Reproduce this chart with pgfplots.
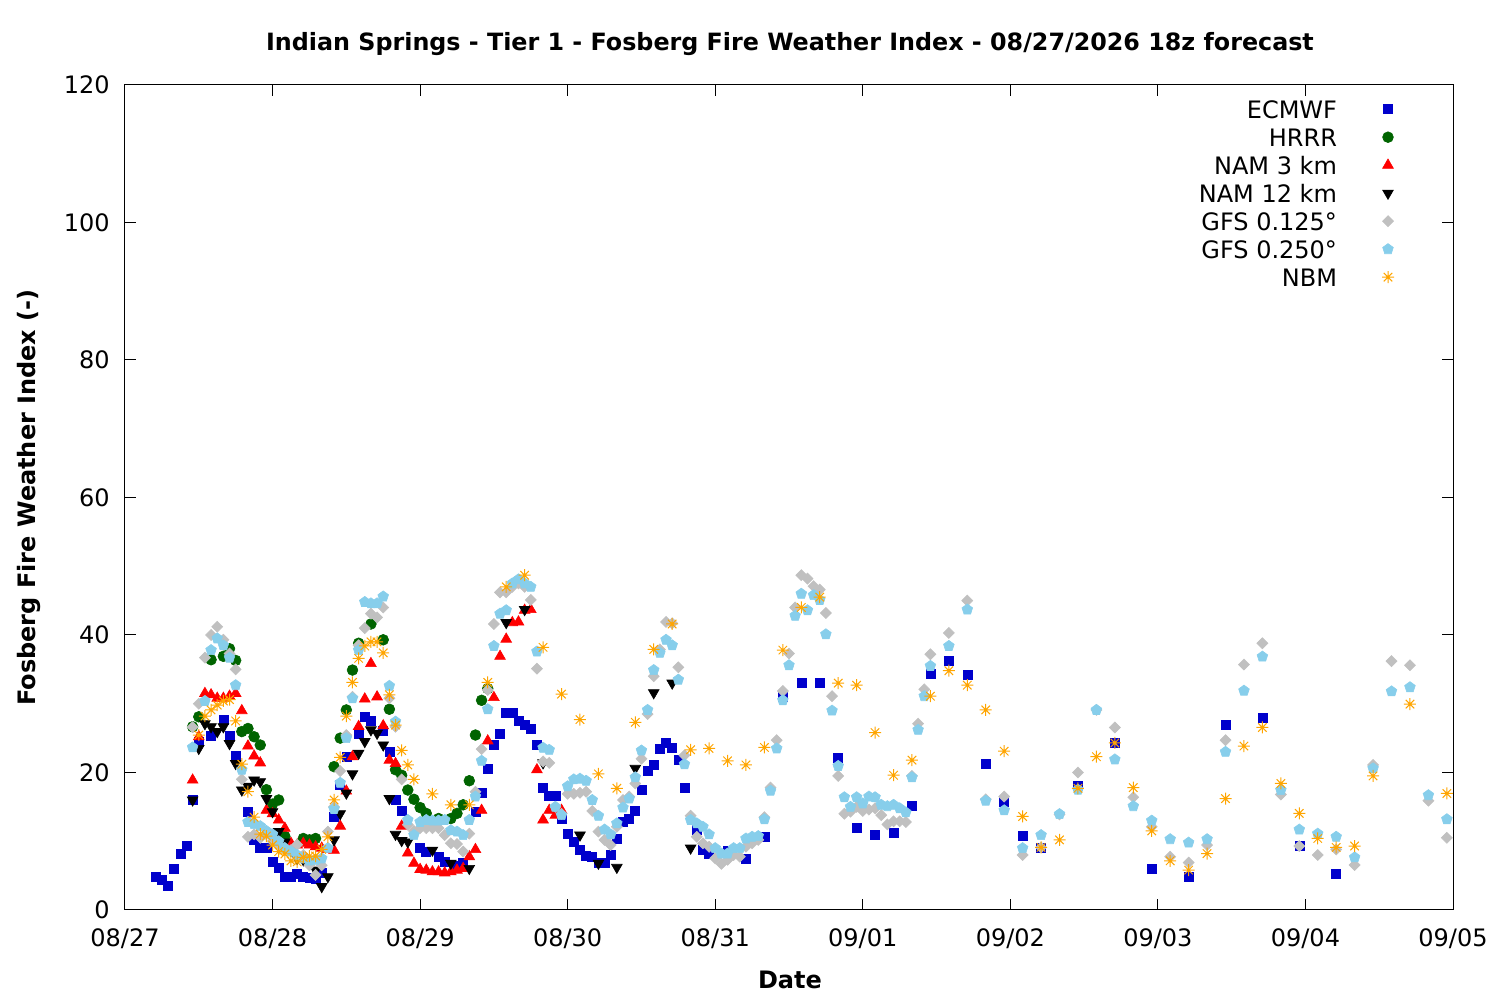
\documentclass[border=0pt]{standalone}
\usepackage{pgfplots}
\pgfplotsset{compat=1.18}
\usepackage{fontspec}
\setmainfont{DejaVu Sans}
\definecolor{ecblue}{RGB}{0,0,204}
\definecolor{hrgreen}{RGB}{0,100,0}
\definecolor{gfsgray}{RGB}{192,192,192}
\definecolor{gfsblue}{RGB}{135,206,235}
\definecolor{nbmorange}{RGB}{255,165,0}
\pgfdeclareplotmark{gpstar}{%
  \pgfpathmoveto{\pgfqpoint{-\pgfplotmarksize}{0pt}}%
  \pgfpathlineto{\pgfqpoint{\pgfplotmarksize}{0pt}}%
  \pgfpathmoveto{\pgfqpoint{0pt}{-\pgfplotmarksize}}%
  \pgfpathlineto{\pgfqpoint{0pt}{\pgfplotmarksize}}%
  \pgfpathmoveto{\pgfqpoint{-.7071\pgfplotmarksize}{-.7071\pgfplotmarksize}}%
  \pgfpathlineto{\pgfqpoint{.7071\pgfplotmarksize}{.7071\pgfplotmarksize}}%
  \pgfpathmoveto{\pgfqpoint{-.7071\pgfplotmarksize}{.7071\pgfplotmarksize}}%
  \pgfpathlineto{\pgfqpoint{.7071\pgfplotmarksize}{-.7071\pgfplotmarksize}}%
  \pgfusepathqstroke}
\begin{document}
\begin{tikzpicture}
\path[use as bounding box] (-62.5pt,-45pt) rectangle (687.5pt,455pt);
\begin{axis}[
  at={(0,0)}, anchor=south west,
  scale only axis, width=664pt, height=412.5pt,
  xmin=0, xmax=216, ymin=0, ymax=120,
  xtick={0,24,...,216},
  xticklabels={08/27,08/28,08/29,08/30,08/31,09/01,09/02,09/03,09/04,09/05},
  ytick={0,20,...,120},
  /pgf/number format/assume math mode=true,
  tick align=inside, major tick length=5.5pt,
  tick style={black, line width=0.5pt},
  axis line style={line width=0.5pt},
  font=\fontsize{12}{14}\selectfont,
  xticklabel style={anchor=base, yshift=-18.4pt, inner sep=0pt},
  yticklabel style={anchor=east, xshift=-7.5pt, inner sep=0pt},
  legend plot pos=right,
  legend image post style={yshift=1.8pt},
  legend style={at={(axis description cs:1,1)}, anchor=north east, xshift=-29.5pt, yshift=-7.9pt,
    draw=none, fill=none, inner sep=0pt, outer sep=0pt, row sep=2pt, column sep=22.5pt,
    nodes={text height=9pt, text depth=3pt, inner sep=0pt},
    cells={anchor=east}, font=\fontsize{12}{14}\selectfont},
  every axis plot/.append style={line width=0.3pt},
]
\addplot[only marks, color=ecblue, mark=square*, mark size=2.25pt] coordinates {
(5,4.85)(6,4.4)(7,3.5)(8,6.05)(9,8.2)(10,9.4)(11,16)(12,24.5)(14,25.3)(16,27.6)(17,25.4)(18,22.5)(20,14.3)(21,10.2)(22,9.0)(23,9.0)(24,7.0)(25,6.2)(26,4.9)(27,4.9)(28,5.3)(29,4.9)(30,4.7)(31,4.6)(32,5.4)(34,13.6)(35,18.2)(36,22.3)(38,25.7)(39,28.1)(40,27.5)(42,26)(43,23)(44,16.1)(45,14.5)(48,9.0)(49,8.5)(51,7.7)(52,7.0)(54,6.5)(55,6.8)(57,14.3)(58,17.1)(59,20.6)(60,24)(61,25.7)(62,28.7)(63,28.7)(64,27.5)(65,27)(66,26.3)(67,24.1)(68,17.8)(69,16.6)(70,16.6)(71,13.3)(72,11.1)(73,9.9)(74,8.8)(75,7.85)(76,7.75)(77,6.8)(78,6.8)(79,8.0)(80,10.4)(81,12.8)(82,13.3)(83,14.4)(84,17.45)(85,20.2)(86,21.1)(87,23.4)(88,24.3)(89,23.6)(90,21.8)(91,17.8)(93,11.7)(94,8.7)(95,8.2)(98,8.6)(101,7.4)(104,10.7)(107,31.0)(110,33.0)(113,33.1)(116,22.2)(119,12.0)(122,10.9)(125,11.3)(128,15.1)(131,34.4)(134,36.2)(137,34.2)(140,21.2)(143,15.75)(146,10.8)(149,9.1)(155,18.0)(161,24.3)(167,6.05)(173,4.85)(179,26.9)(185,27.9)(191,9.3)(197,5.2)
};
\addlegendentry{ECMWF}
\addplot[only marks, color=hrgreen, mark=*, mark size=2.7pt] coordinates {
(11,26.65)(12,28.1)(14,36.4)(16,36.9)(17,38.0)(18,36.3)(19,25.95)(20,26.4)(21,25.2)(22,24.0)(23,17.5)(24,15.4)(25,16)(26,10.7)(29,10.4)(30,10.2)(31,10.4)(34,20.85)(35,25)(36,29.1)(37,34.9)(38,38.8)(40,41.6)(42,39.3)(43,29.2)(44,20.4)(45,19.6)(46,17.45)(47,16.1)(48,14.9)(49,14.05)(51,13.3)(53,13.3)(54,14.05)(55,15.3)(56,18.8)(57,25.45)(58,30.5)(59,32.2)
};
\addlegendentry{HRRR}
\addplot[only marks, color=red, mark=triangle*, mark size=3.1pt] coordinates {
(11,18.9)(12,25.2)(13,31.5)(14,31.3)(15,30.8)(16,30.8)(17,31.1)(18,31.5)(19,29)(20,23.85)(21,22.4)(22,21.4)(23,14.5)(24,14)(25,13.1)(26,11.9)(27,9.7)(28,9.45)(29,9.7)(30,9.45)(31,9.2)(32,9.0)(33,8.8)(34,8.7)(35,12.2)(36,17.3)(37,22.3)(38,26.7)(39,30.7)(40,35.85)(41,31)(42,26.8)(43,21.8)(44,21.3)(45,12.2)(46,8.3)(47,6.8)(48,5.9)(49,5.8)(50,5.55)(51,5.55)(52,5.4)(53,5.55)(54,5.8)(55,6.05)(56,7.75)(57,8.8)(58,14.5)(59,24.6)(60,30.9)(61,36.9)(62,39.4)(63,41.8)(64,41.9)(65,43.6)(66,43.7)(67,20.4)(68,13.1)(69,14.5)(70,13.8)(71,14.5)
};
\addlegendentry{NAM 3 km}
\addplot[only marks, color=black, mark=triangle*, mark size=3.1pt, mark options={rotate=180}] coordinates {
(11,16)(12,23.5)(13,27.1)(14,26.65)(15,25.95)(16,26.65)(17,24.2)(18,21.3)(19,17.45)(20,18)(21,18.9)(22,18.65)(23,16.2)(24,14.3)(25,11.4)(26,9.9)(27,8.7)(28,7.5)(29,7.3)(30,6.8)(31,5.8)(32,3.4)(33,4.85)(34,10.2)(35,14)(36,17)(37,19.8)(38,22.8)(39,24.5)(40,26.2)(41,25.7)(42,24)(43,16.2)(44,11)(45,10.1)(46,9.9)(50,8.7)(53,6.8)(56,6.05)(62,41.8)(65,43.7)(68,21.4)(74,10.9)(77,6.8)(80,6.2)(83,20.6)(86,31.6)(89,33.0)(92,9.0)
};
\addlegendentry{NAM 12 km}
\addplot[only marks, color=gfsgray, mark=square*, mark size=1.95pt, mark options={rotate=45}] coordinates {
(11,26.6)(12,30)(13,36.7)(14,40)(15,41.2)(16,39.3)(17,37.3)(18,35)(19,19)(20,10.65)(21,11)(22,10.5)(23,11)(24,10)(25,9.5)(26,9)(27,8.7)(28,9.5)(29,8)(30,6.5)(31,5.1)(32,6.5)(33,11.4)(34,15)(35,20.2)(36,25.45)(37,31)(38,38.5)(39,41)(40,43.1)(41,42.55)(42,44)(43,30.8)(44,26.65)(45,19)(46,12.4)(47,11.5)(48,11.9)(49,11.9)(50,11.9)(51,11.9)(52,10.9)(53,9.7)(54,9.6)(55,8.5)(56,11.1)(57,17.2)(58,23.4)(59,32)(60,41.6)(61,46.2)(62,46.2)(63,47)(64,47.5)(65,47)(66,45.1)(67,35.1)(68,21.6)(69,21.4)(70,15)(71,14)(72,16.9)(73,16.9)(74,17.05)(75,17.2)(76,14.4)(77,11.4)(78,10.2)(79,9.45)(80,12.1)(81,16)(82,16.5)(83,18.4)(84,22)(85,28.5)(86,34)(87,37.9)(88,41.9)(89,41.7)(90,35.3)(91,22.5)(92,13.7)(93,10.65)(94,9.7)(95,9.2)(96,7.5)(97,6.7)(98,7.3)(99,8)(100,7.75)(101,9.2)(102,9.7)(103,10.2)(104,13.5)(105,17.8)(106,24.7)(107,31.85)(108,37.3)(109,44)(110,48.7)(111,48.2)(112,47.1)(113,46.6)(114,43.2)(115,31.1)(116,19.5)(117,14)(118,14.3)(119,15)(120,14.4)(121,14.6)(122,14.8)(123,13.8)(124,12.45)(125,12.9)(126,12.9)(127,12.8)(128,19.5)(129,27.1)(130,32.1)(131,37.2)(134,40.3)(137,45)(140,16.1)(143,16.5)(146,8.0)(149,9.1)(152,13.9)(155,20)(158,29.1)(161,26.55)(164,16.4)(167,12.1)(170,7.75)(173,6.9)(176,9.45)(179,24.7)(182,35.7)(185,38.8)(188,16.8)(191,9.3)(194,8.0)(197,8.8)(200,6.55)(203,21.1)(206,36.2)(209,35.6)(212,15.9)(215,10.5)
};
\addlegendentry{GFS 0.125°}
\addplot[only marks, color=gfsblue, mark=pentagon*, mark size=2.8pt] coordinates {
(11,23.65)(13,30.4)(14,37.8)(15,39.5)(16,38.5)(17,36.7)(18,32.7)(19,20.4)(20,12.8)(21,12.5)(22,12.2)(23,11.5)(24,11)(25,10)(26,9)(27,8.5)(28,8)(29,7.5)(30,7.2)(31,7.3)(32,7.5)(33,9)(34,14.7)(35,18.5)(36,25)(37,30.8)(38,37.8)(39,44.8)(40,44.6)(41,44.6)(42,45.6)(43,32.6)(44,27.4)(46,13.1)(47,10.9)(48,12.8)(49,13.1)(50,13)(51,13)(52,13.1)(53,11.6)(54,11.4)(55,10.9)(56,13.1)(57,16.5)(58,21.7)(59,29.2)(60,38.4)(61,43.1)(62,43.6)(63,47.5)(64,48.1)(65,47.5)(66,47)(67,37.6)(68,23.6)(69,23.3)(70,15.0)(71,13.8)(72,18)(73,19)(74,19.1)(75,18.8)(76,16)(77,13.7)(78,11.7)(79,11.0)(80,12.6)(81,14.9)(82,16.2)(83,19.3)(84,23.2)(85,29.1)(86,34.9)(87,37.4)(88,39.3)(89,38.5)(90,33.5)(91,21.2)(92,13.1)(93,12.6)(94,12.1)(95,11.0)(96,9)(97,8.2)(98,8.2)(99,9)(100,9)(101,10.4)(102,10.65)(103,10.75)(104,13.2)(105,17.35)(106,23.5)(107,30.5)(108,35.6)(109,42.8)(110,46)(111,43.6)(112,45.8)(113,45.1)(114,40.1)(115,29)(116,20.95)(117,16.4)(118,15.0)(119,16.4)(120,15.5)(121,16.5)(122,16.4)(123,15.3)(124,15.1)(125,15.3)(126,14.8)(127,14.2)(128,19.3)(129,26.2)(130,31.1)(131,35.5)(134,38.4)(137,43.7)(140,15.9)(143,14.5)(146,9.0)(149,10.9)(152,13.95)(155,17.5)(158,29.1)(161,21.9)(164,15.1)(167,13.0)(170,10.3)(173,9.8)(176,10.3)(179,23.0)(182,31.9)(185,36.85)(188,17.45)(191,11.7)(194,11.1)(197,10.65)(200,7.65)(203,20.6)(206,31.8)(209,32.4)(212,16.7)(215,13.2)
};
\addlegendentry{GFS 0.250°}
\addplot[only marks, color=nbmorange, mark=gpstar, mark size=3pt, mark options={line width=0.5pt}] coordinates {
(12,25.45)(13,28.2)(14,29.1)(15,29.8)(16,30.4)(17,30.6)(18,27.5)(19,21.2)(20,17.2)(21,13.5)(22,11.05)(23,10.75)(24,9.45)(25,8.5)(26,8.15)(27,7.15)(28,7.0)(29,7.65)(30,7.85)(31,7.85)(32,8.8)(33,10.65)(34,16)(35,22.2)(36,28.2)(37,33.1)(38,36.6)(39,38.4)(40,39)(41,39)(42,37.4)(43,31.3)(44,26.9)(45,23.2)(46,21.1)(47,19)(50,16.9)(53,15.3)(56,15.3)(59,33.1)(62,47)(65,48.7)(68,38.2)(71,31.4)(74,27.7)(77,19.8)(80,17.7)(83,27.3)(86,37.9)(89,41.6)(92,23.3)(95,23.5)(98,21.7)(101,21.1)(104,23.65)(107,37.8)(110,44)(113,45.5)(116,33)(119,32.7)(122,25.8)(125,19.6)(128,21.8)(131,31.1)(134,34.8)(137,32.7)(140,29.1)(143,23.1)(146,13.6)(149,9.1)(152,10.2)(155,17.7)(158,22.3)(161,24.3)(164,17.8)(167,11.5)(170,7.15)(173,5.8)(176,8.2)(179,16.2)(182,23.85)(185,26.55)(188,18.4)(191,14.05)(194,10.4)(197,9.1)(200,9.3)(203,19.5)(209,29.95)(215,16.95)
};
\addlegendentry{NBM}
\end{axis}
\node[anchor=base, font=\fontsize{11.9}{14}\selectfont\bfseries] at (332.5pt,429.6pt) {Indian Springs - Tier 1 - Fosberg Fire Weather Index - 08/27/2026 18z forecast};
\node[anchor=base, font=\fontsize{12}{14}\selectfont\bfseries] at (332.5pt,-39.4pt) {Date};
\node[anchor=base, rotate=90, font=\fontsize{12}{14}\selectfont\bfseries] at (-44.6pt,206.25pt) {Fosberg Fire Weather Index (-)};
\end{tikzpicture}
\end{document}
